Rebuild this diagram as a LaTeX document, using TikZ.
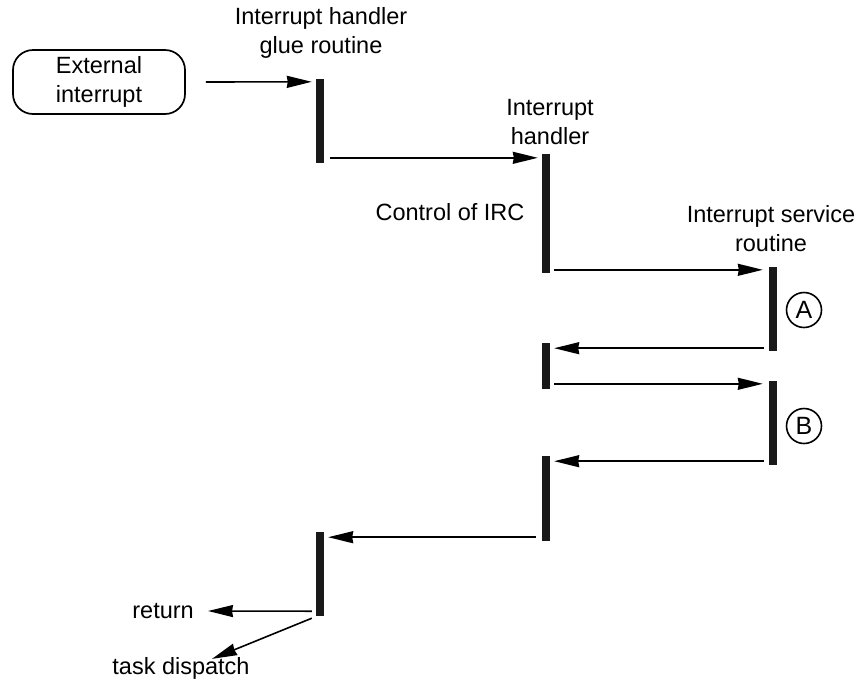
\documentclass[tikz,border=0pt]{standalone}
\usepackage{fontspec}
\setmainfont{Liberation Sans}
\usetikzlibrary{arrows.meta,calc}
\begin{document}
\begin{tikzpicture}[x=1pt,y=-1pt,
  bar/.style={fill=black!90,draw=none,rectangle,inner sep=0pt,minimum width=8pt},
  arr/.style={line width=1.6pt,-{Stealth[length=25pt,width=12pt,inset=1pt]}},
  lbl/.style={font=\fontsize{23.5}{29}\selectfont,align=center,inner sep=0pt},
  marker/.style={draw,circle,line width=1.6pt,minimum size=35pt,inner sep=0pt,
    font=\fontsize{25}{29}\selectfont}
]
\useasboundingbox (0,0) rectangle (861,686);

% external source
\node[draw,line width=1.7pt,rounded corners=20pt,minimum width=172pt,minimum height=64pt,lbl] (ext) at (99,82) {External\\interrupt};

% activation bars
\node[bar,minimum height=84pt]  (b1) at (320,121) {};
\node[bar,minimum height=119pt] (b2) at (546,213.5) {};
\node[bar,minimum height=84pt]  (b3) at (773,309) {};
\node[bar,minimum height=46pt]  (b4) at (546,366) {};
\node[bar,minimum height=84pt]  (b5) at (773,423) {};
\node[bar,minimum height=85pt]  (b6) at (546,498.5) {};
\node[bar,minimum height=84pt]  (b7) at (320,574) {};

% labels
\node[lbl] (t1) at (321,33) {Interrupt handler\\glue routine};
\node[lbl] (t2) at (550,122) {Interrupt\\handler};
\node[lbl] (t3) at (450,212) {Control of IRC};
\node[lbl] (t4) at (771,229) {Interrupt service\\routine};
\node[lbl,anchor=east] (ret) at (194,611) {return};
\node[lbl] (td) at (181,668) {task dispatch};

\node[marker] (ca) at (804,310) {A};
\node[marker] (cb) at (804,426) {B};

% messages
\draw[arr] ($(ext.east)+(20,0)$) -- ($(b1.north west)+(-4,3)$);
\draw[arr] ($(b1.east |- b2.north)+(6,4)$) -- ($(b2.north west)+(-4,4)$);
\draw[arr] ($(b2.east |- b3.north)+(4,3)$) -- ($(b3.north west)+(-6,3)$);
\draw[arr] ($(b3.south west)+(-5,-3)$) -- ($(b4.east |- b3.south)+(4,-3)$);
\draw[arr] ($(b4.east |- b5.north)+(4,3)$) -- ($(b5.north west)+(-6,3)$);
\draw[arr] ($(b5.south west)+(-5,-4)$) -- ($(b6.east |- b5.south)+(4,-4)$);
\draw[arr] ($(b6.south west)+(-6,-4)$) -- ($(b7.east |- b6.south)+(4,-4)$);
\draw[arr] ($(b7.south west)+(-4,-5)$) -- ($(ret.east)+(14,0)$);
\draw[arr] ($(b7.south west)+(-4,2)$) -- ($(td.north)+(31,2)$);
\end{tikzpicture}
\end{document}
